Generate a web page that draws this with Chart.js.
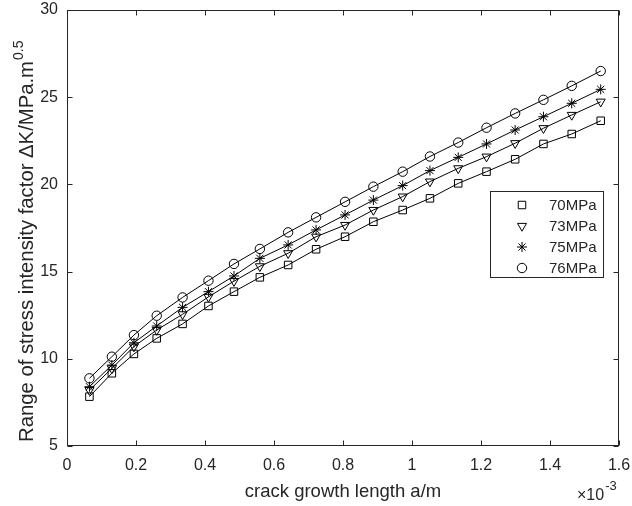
<!DOCTYPE html>
<html><head><meta charset="utf-8">
<script src="https://cdn.jsdelivr.net/npm/chart.js@4/dist/chart.umd.min.js"></script>
<style>html,body{margin:0;padding:0;background:#fff}canvas{display:block}</style>
</head><body>
<canvas id="c" width="632" height="506"></canvas>
<script>
// crack growth length a (units of 10^-3 m)
const crackLength = [0.065,0.13,0.194,0.26,0.335,0.41,0.484,0.559,0.641,0.722,0.806,0.888,0.973,1.052,1.134,1.216,1.299,1.381,1.463,1.547];
// ΔK (MPa·m^0.5)
const dK70 = [7.83,9.17,10.28,11.17,12.0,13.03,13.85,14.67,15.38,16.28,17.0,17.86,18.53,19.2,20.06,20.73,21.44,22.32,22.89,23.65];
const dK73 = [8.2,9.45,10.7,11.65,12.55,13.55,14.45,15.3,16.05,17.0,17.67,18.53,19.3,20.16,20.92,21.59,22.36,23.22,23.98,24.74];
const dK75 = [8.4,9.64,10.92,11.88,12.95,13.85,14.75,15.76,16.53,17.39,18.25,19.1,19.93,20.79,21.55,22.32,23.12,23.88,24.65,25.45];
const dK76 = [8.88,10.12,11.36,12.47,13.52,14.48,15.44,16.3,17.25,18.11,19.0,19.87,20.73,21.6,22.4,23.25,24.07,24.85,25.65,26.5];
const seriesLabels = ['70MPa','73MPa','75MPa','76MPa'];
const xTickValues = [0,0.2,0.4,0.6,0.8,1,1.2,1.4,1.6];
const xTickLabels = ['0','0.2','0.4','0.6','0.8','1','1.2','1.4','1.6'];
const yTickValues = [5,10,15,20,25,30];
const yTickLabels = ['5','10','15','20','25','30'];
const xTitle = 'crack growth length a/m';
const xExpBase = '\u00d710';
const xExpPow = '-3';
const yTitle = 'Range of stress intensity factor \u0394K/MPa.m';
const yTitleSup = '0.5';

const FONT = '"Liberation Sans", Arial, sans-serif';
const TXT = '#262626';

function mk(label, data, style, r, rot) {
  return {
    label, data: crackLength.map((x,i)=>({x, y:data[i]})),
    borderColor:'#000', borderWidth:1, backgroundColor:'rgba(0,0,0,0)',
    pointStyle:style, pointRadius:r, pointHoverRadius:r, pointRotation:rot||0,
    pointBorderColor:'#000', pointBackgroundColor:'rgba(0,0,0,0)', pointBorderWidth:1,
    showLine:true, tension:0
  };
}
const datasets = [
  mk(seriesLabels[0], dK70, 'rect', 5.3),
  mk(seriesLabels[1], dK73, 'triangle', 5.2, 180),
  mk(seriesLabels[2], dK75, 'star', 5),
  mk(seriesLabels[3], dK76, 'circle', 4.7)
];

function zeroPad(s){ s.paddingLeft = 0; s.paddingRight = 0; s.paddingTop = 0; s.paddingBottom = 0; }

const framePlugin = {
  id:'frame',
  afterDraw(chart){
    const ctx = chart.ctx, a = chart.chartArea;
    const xs = chart.scales.x, ys = chart.scales.y;
    ctx.save();
    ctx.strokeStyle = TXT; ctx.lineWidth = 1;
    const L = Math.round(a.left)+0.5, R = Math.round(a.right)-0.5, T = Math.round(a.top)+0.5, B = Math.round(a.bottom)-0.5;
    ctx.strokeRect(L, T, R-L, B-T);
    ctx.beginPath();
    const tl = 5;
    xTickValues.forEach(v=>{
      const p = Math.round(xs.getPixelForValue(v))+0.5;
      ctx.moveTo(p,B); ctx.lineTo(p,B-tl);
      ctx.moveTo(p,T); ctx.lineTo(p,T+tl);
    });
    yTickValues.forEach(v=>{
      const p = Math.round(ys.getPixelForValue(v))+0.5;
      ctx.moveTo(L,p); ctx.lineTo(L+tl,p);
      ctx.moveTo(R,p); ctx.lineTo(R-tl,p);
    });
    ctx.stroke();

    // legend
    const bx = 490.5, by = 191.5, bw = 113, bh = 86;
    ctx.fillStyle = '#fff';
    ctx.fillRect(bx, by, bw, bh);
    ctx.strokeRect(bx, by, bw, bh);
    ctx.textBaseline = 'middle'; ctx.textAlign = 'left';
    chart.data.datasets.forEach((ds,i)=>{
      const cy = 205 + i*21;
      ctx.strokeStyle = '#000'; ctx.lineWidth = 1;
      ctx.fillStyle = 'rgba(0,0,0,0)';
      Chart.helpers.drawPoint(ctx, {pointStyle: ds.pointStyle, rotation: ds.pointRotation, radius: ds.pointRadius, borderWidth:1}, 522, cy);
      ctx.font = '15px ' + FONT;
      ctx.fillStyle = TXT;
      ctx.fillText(ds.label, 549, cy+1);
    });

    // x title
    ctx.fillStyle = TXT;
    ctx.font = '18.5px ' + FONT;
    ctx.textAlign = 'center'; ctx.textBaseline = 'alphabetic';
    ctx.fillText(xTitle, (a.left+a.right)/2, 497);

    // exponent
    ctx.textAlign = 'left';
    ctx.font = '16px ' + FONT;
    ctx.fillText(xExpBase, 577, 500);
    const w = ctx.measureText(xExpBase).width;
    ctx.font = '13px ' + FONT;
    ctx.fillText(xExpPow, 577 + w + 1, 490);

    // y title
    ctx.save();
    ctx.translate(33, 442);
    ctx.rotate(-Math.PI/2);
    ctx.font = '20.3px ' + FONT;
    ctx.textAlign = 'left'; ctx.textBaseline = 'alphabetic';
    ctx.fillText(yTitle, 0, 0);
    const mw = ctx.measureText(yTitle).width;
    ctx.font = '14px ' + FONT;
    ctx.fillText(yTitleSup, mw + 1, -10);
    ctx.restore();
    ctx.restore();
  }
};

new Chart(document.getElementById('c'), {
  type:'scatter',
  data:{datasets},
  options:{
    responsive:false, animation:false, devicePixelRatio:1,
    layout:{padding:{left:0, top:10, right:13, bottom:0}},
    plugins:{legend:{display:false}, tooltip:{enabled:false}},
    scales:{
      x:{
        type:'linear', min:0, max:1.6,
        afterBuildTicks(s){ s.ticks = xTickValues.map(v=>({value:v})); },
        afterFit(s){ s.height = 60; zeroPad(s); },
        grid:{display:false, drawTicks:false}, border:{display:false},
        ticks:{padding:10, color:TXT, font:{family:FONT, size:16},
          callback:(v)=>{const i = xTickValues.indexOf(v); return i>=0 ? xTickLabels[i] : '';}}
      },
      y:{
        type:'linear', min:5, max:30,
        afterBuildTicks(s){ s.ticks = yTickValues.map(v=>({value:v})); },
        afterFit(s){ s.width = 67; zeroPad(s); },
        grid:{display:false, drawTicks:false}, border:{display:false},
        ticks:{padding:9, color:TXT, font:{family:FONT, size:16},
          callback:(v)=>{const i = yTickValues.indexOf(v); return i>=0 ? yTickLabels[i] : '';}}
      }
    }
  },
  plugins:[framePlugin]
});
</script>
</body></html>
